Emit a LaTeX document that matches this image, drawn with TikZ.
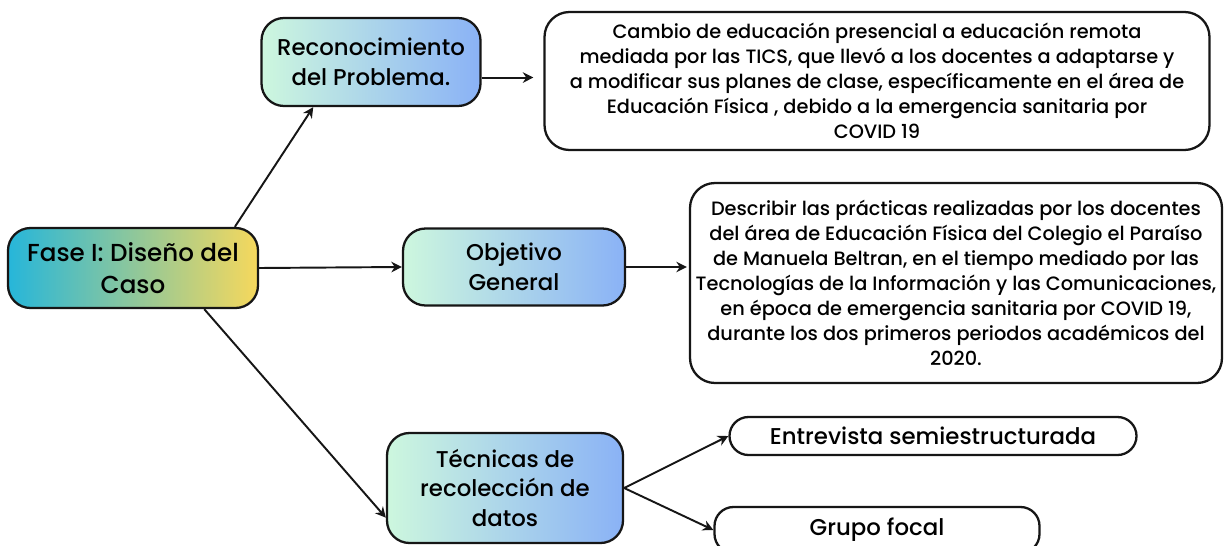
\documentclass[tikz,border=0pt]{standalone}
\usepackage{fontspec}
\IfFontExistsTF{Poppins Medium}{\setmainfont{Poppins Medium}}{\setmainfont{Poppins}[FakeBold=0.6]}
\usetikzlibrary{arrows.meta}
\definecolor{inkblack}{RGB}{22,22,22}
\definecolor{casecyan}{RGB}{38,182,218}
\definecolor{caseyellow}{RGB}{246,216,92}
\definecolor{stepmint}{RGB}{205,247,222}
\definecolor{stepblue}{RGB}{138,178,246}

\begin{document}
\begin{tikzpicture}[
    phase/.style={draw=inkblack, line width=1.3pt, rounded corners=0.45cm, left color=casecyan, right color=caseyellow, inner sep=0pt, align=center, font=\fontsize{14}{18}\selectfont},
    stage/.style={draw=inkblack, line width=1.3pt, rounded corners=0.45cm, left color=stepmint, right color=stepblue, inner sep=0pt, align=center, font=\fontsize{13}{17}\selectfont},
    textbox/.style={draw=inkblack, line width=1.3pt, rounded corners=0.5cm, fill=white, inner sep=0pt, align=center, font=\fontsize{11}{14.2}\selectfont},
    pill/.style={draw=inkblack, line width=1.3pt, rounded corners=0.38cm, fill=white, inner sep=0pt, align=center, font=\fontsize{13}{16}\selectfont},
    link/.style={-{Stealth[length=6pt,width=6pt]}, line width=1.1pt, draw=inkblack}
]
    \useasboundingbox (0,0) rectangle (24.5,10.9);
    % main boxes
    \node[phase, minimum width=5cm, minimum height=1.6cm] (fase) at (2.66,5.54) {Fase I: Diseño del\\Caso};
    \node[stage, minimum width=4.38cm, minimum height=1.76cm] (recon) at (7.42,9.66) {Reconocimiento\\del Problema.};
    \node[stage, minimum width=4.44cm, minimum height=1.54cm] (objetivo) at (10.28,5.56) {Objetivo\\General};
    \node[stage, minimum width=4.72cm, minimum height=2.2cm] (tecnicas) at (10.1,1.14) {Técnicas de\\recolección de\\datos};
    % text boxes
    \node[textbox, minimum width=13.3cm, minimum height=2.76cm] (cambio) at (17.54,9.28) {Cambio de educación presencial a educación remota\\mediada por las TICS, que llevó a los docentes a adaptarse y\\a modificar sus planes de clase, específicamente en el área de\\Educación Física , debido a la emergencia sanitaria por\\COVID 19};
    \node[textbox, minimum width=10.64cm, minimum height=4cm] (describir) at (19.12,5.24) {Describir las prácticas realizadas por los docentes\\del área de Educación Física del Colegio el Paraíso\\de Manuela Beltran, en el tiempo mediado por las\\Tecnologías de la Información y las Comunicaciones,\\en época de emergencia sanitaria por COVID 19,\\durante los dos primeros periodos académicos del\\2020.};
    \node[pill, minimum width=8.14cm, minimum height=0.76cm] (entrevista) at (18.66,2.18) {Entrevista semiestructurada};
    \node[pill, minimum width=6.5cm, minimum height=0.92cm] (grupo) at (17.54,0.3) {Grupo focal};
    % connectors
    \draw[link] (fase.22) -- (recon.218);
    \draw[link] (fase.east) -- (objetivo.west);
    \draw[link] (fase.-30) -- (tecnicas.194);
    \draw[link, shorten >=0.2cm] (recon.-8) -- (recon.-8 -| cambio.west);
    \draw[link, shorten >=0.04cm] (objetivo.east) -- (objetivo.east -| describir.west);
    \draw[link] (tecnicas.east) -- (entrevista.west);
    \draw[link] (tecnicas.east) -- (grupo.west);
\end{tikzpicture}
\end{document}
